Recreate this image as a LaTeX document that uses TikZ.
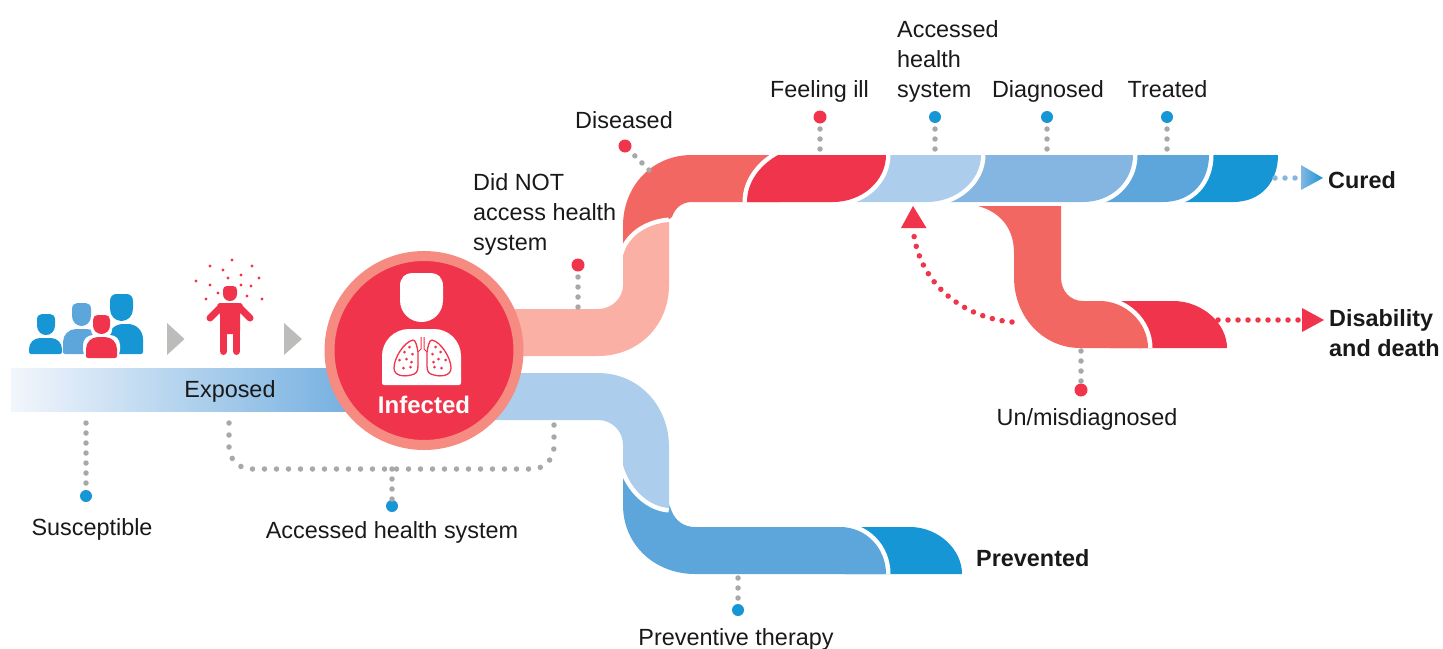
\documentclass[tikz,border=0pt]{standalone}
\usepackage{fontspec}
\setmainfont{Liberation Sans}
\usetikzlibrary{positioning}
\definecolor{cdark}{HTML}{1696D4}
\definecolor{cmid}{HTML}{5CA6DC}
\definecolor{csoft}{HTML}{85B6E2}
\definecolor{cpale}{HTML}{ACCDEB}
\definecolor{cend}{HTML}{72AEDF}
\definecolor{cstart}{HTML}{F2F6FC}
\definecolor{cred}{HTML}{F0344B}
\definecolor{csalmon}{HTML}{F36763}
\definecolor{cpink}{HTML}{FAB0A5}
\definecolor{cring}{HTML}{F68B81}
\definecolor{cdots}{HTML}{A8A8A8}
\definecolor{cgrey}{HTML}{BCBDBB}
\tikzset{
	label/.style={font=\fontsize{23.4}{30}\selectfont,text=black!90,inner sep=0pt,align=left,anchor=base},
	strong/.style={label,font=\fontsize{23.4}{30}\selectfont\bfseries},
	dotline/.style={draw=cdots,line width=5.5pt,line cap=round,dash pattern=on 0pt off 10pt},
	redline/.style={draw=cred,line width=5.5pt,line cap=round,dash pattern=on 0pt off 10pt},
	blueline/.style={draw=csoft,line width=5.5pt,line cap=round,dash pattern=on 0pt off 10pt},
	reddot/.style={circle,fill=cred,inner sep=0pt,minimum size=13pt},
	bluedot/.style={circle,fill=cdark,inner sep=0pt,minimum size=12pt},
	gap/.style={draw=white,line width=9pt}
}
% one piece of the upper bar: colour, hidden left end, top and bottom of its rounded right end
\newcommand{\barpiece}[4]{
	\draw[gap] (#3,155) .. controls +(0,26) and +(29,0) .. (#4,202);
	\fill[#1] (#2,155) -- (#3,155) .. controls +(0,26) and +(29,0) .. (#4,202) -- (#2,202) -- cycle;
}
% head drawn in a box of 43 by 49, stretched to the given corners
\newcommand{\headicon}[5]{
	\begin{scope}[shift={(#2,#3)},xscale={(#4-#2)/43},yscale={(#5-#3)/49}]
		\fill[#1] (12,0) -- (31,0) .. controls (38,0) and (43,5) .. (43,13) -- (43,27) .. controls (43,40) and (33,49) .. (21.5,49) .. controls (10,49) and (0,40) .. (0,27) -- (0,13) .. controls (0,5) and (5,0) .. (12,0);
	\end{scope}
}
\newcommand{\bodyicon}[6]{
	\fill[#1] (#2,#5) [rounded corners=#6] -- (#2,#3) -- (#4,#3) [rounded corners=2] -- (#4,#5) -- cycle;
}
\begin{document}
\begin{tikzpicture}[x=1pt,y=-1pt]
	\useasboundingbox (0,0) rectangle (1443,648);

	% upper bar
	\barpiece{cdark}{1170}{1278}{1233}
	\barpiece{cmid}{1090}{1209}{1163}
	\barpiece{csoft}{940}{1133}{1083}
	\barpiece{cpale}{840}{981}{927}
	\draw[gap] (886,155) .. controls +(0,26) and +(29,0) .. (833,202);
	\fill[csalmon] (623,252) -- (623,226) .. controls (623,186) and (652,155) .. (692,155) -- (780,155) -- (780,202) -- (692,202) .. controls (682,202) and (675,208) .. (672,217) -- cycle;
	\draw[gap] (778,155) .. controls (760,165) and (747,182) .. (747,202);
	\fill[cred] (778,155) .. controls (760,165) and (747,182) .. (747,202) -- (833,202) .. controls +(29,0) and +(0,26) .. (886,155) -- cycle;

	% pink branch
	\draw[gap] (623,256) .. controls (627,238) and (645,224) .. (669,222);
	\fill[cpink] (470,309) -- (598,309) .. controls (612,309) and (623,298) .. (623,285) -- (623,256) .. controls (627,238) and (645,224) .. (669,222) -- (669,285) .. controls (669,326) and (638,356) .. (598,356) -- (470,356) -- cycle;

	% lower bar
	\fill[cdark] (845,527) -- (910,527) .. controls (938,527) and (962,549) .. (962,574) -- (845,574) -- cycle;
	\draw[gap] (840,527) .. controls +(26,0) and +(0,-26) .. (886,574);
	\fill[cmid] (623,470) -- (623,505) .. controls (623,545) and (655,574) .. (695,574) -- (886,574) .. controls +(0,-26) and +(26,0) .. (840,527) -- (695,527) .. controls (684,527) and (676,521) .. (672,512) -- (660,480) -- cycle;
	\draw[gap] (623,465) .. controls (630,490) and (650,507) .. (669,508);
	\fill[cpale] (470,373) -- (598,373) .. controls (638,373) and (669,405) .. (669,447) -- (669,508) .. controls (650,507) and (630,490) .. (623,465) -- (623,445) .. controls (623,431) and (612,420) .. (598,420) -- (470,420) -- cycle;

	% branch to disability
	\fill[cred] (1110,301) -- (1173,301) .. controls (1203,301) and (1227,324) .. (1227,348) -- (1110,348) -- cycle;
	\draw[gap] (1100,301) .. controls +(25,0) and +(0,-26) .. (1148,348);
	\fill[csalmon] (978,206) -- (1061,206) -- (1061,277) .. controls (1061,291) and (1070,301) .. (1083,301) -- (1100,301) .. controls (1125,301) and (1148,322) .. (1148,348) -- (1080,348) .. controls (1044,348) and (1014,318) .. (1014,277) -- (1014,253) .. controls (1014,228) and (1000,212) .. (978,206) -- cycle;

	% exposed bar and infected circle
	\shade[left color=cstart,right color=cend] (11,368) rectangle (360,411);
	\node[label] (exposed) at (230,397) {Exposed};
	\node[circle,fill=cred,draw=cring,line width=10pt,inner sep=0pt,minimum size=189pt] (infected) at (424,350.5) {};
	\headicon{white}{400}{273}{443}{322}
	\bodyicon{white}{382}{329}{461}{385}{27}
	\foreach \lungside in {1,-1} {
		\begin{scope}[shift={(422.5,0)},xscale=\lungside]
			\draw[cred,line width=1.3pt] (-9.5,340) .. controls (-18.5,342) and (-28.5,358) .. (-28.5,368) .. controls (-28.5,376) and (-18.5,377) .. (-11.5,375) .. controls (-6.5,374) and (-4.5,372) .. (-4.5,366) -- (-4.5,352) .. controls (-5.5,347) and (-6.5,340) .. (-9.5,340);
			\draw[cred,line width=1pt] (-1.5,337) -- (-1.5,349) -- (-4.5,352);
			\foreach \px/\py in {-13/347,-18/352,-10/354,-16/359,-23/360,-11/362,-19/368,-12/367}
				\fill[cred] (\px,\py) circle (1.5pt);
		\end{scope}
	}
	\node[strong,text=white,font=\fontsize{24}{30}\selectfont\bfseries] (infectedlabel) at (424,413) {Infected};

	% people
	\headicon{cdark}{37}{314}{55}{335}
	\bodyicon{cdark}{29}{338}{62}{354}{11}
	\headicon{cmid}{72}{303}{91}{326}
	\bodyicon{cmid}{63}{329}{100}{354}{13}
	\headicon{cdark}{110}{294}{133}{321}
	\bodyicon{cdark}{108}{324}{143}{354}{15}
	\fill[white,rounded corners=10] (83,360) rectangle (120,335);
	\fill[white,rounded corners=7] (91,313) rectangle (112,337);
	\headicon{cred}{93}{315}{110}{334}
	\bodyicon{cred}{86}{337}{117}{358}{12}
	\fill[cgrey] (167,323) -- (184.5,339) -- (167,355) -- cycle;
	\fill[cgrey] (284,323) -- (302,339) -- (284,355) -- cycle;

	% exposed person
	\headicon{cred}{223}{286}{237}{301}
	\fill[cred,rounded corners=4] (216,303) -- (244,303) -- (240,312) -- (240,334) -- (220,334) -- (220,312) -- cycle;
	\draw[cred,line width=7pt,line cap=round] (221,307) -- (210,318);
	\draw[cred,line width=7pt,line cap=round] (239,307) -- (250,318);
	\draw[cred,line width=7pt,line cap=round] (223.5,330) -- (223.5,351.5);
	\draw[cred,line width=7pt,line cap=round] (236.5,330) -- (236.5,351.5);
	\foreach \px/\py in {232/260,210/266,252/266,223/270,241/275,228/278,259/278,196/281,210/285,241/285,251/286,218/293,247/296,206/299,262/299}
		\fill[cred] (\px,\py) circle (1.6pt);

	% dots with their labels
	\node[bluedot] (dsusceptible) at (86,496) {};
	\coordinate (tsusceptible) at (86,423);
	\draw[dotline] (tsusceptible) -- (dsusceptible);
	\node[label] (susceptible) at (92,535) {Susceptible};

	\node[bluedot] (dhealth) at (392,506) {};
	\coordinate (healthleft) at (229,423);
	\coordinate (healthmid) at (392,469);
	\coordinate (healthright) at (554,425);
	\draw[dotline,dash pattern=on 0pt off 12pt,rounded corners=22pt] (healthleft) |- (healthmid) -| (healthright);
	\draw[dotline] (healthmid) -- (dhealth);
	\node[label] (health) at (392,538) {Accessed health system};

	\node[bluedot] (dpreventive) at (738,610) {};
	\coordinate (tpreventive) at (738,578);
	\draw[dotline] (tpreventive) -- (dpreventive);
	\node[label] (preventive) at (736,645) {Preventive therapy};

	\node[reddot] (dnoaccess) at (578,265) {};
	\coordinate (tnoaccess) at (578,307);
	\draw[dotline] (tnoaccess) -- (dnoaccess);
	\node[label,anchor=west] (noaccess) at (473,214) {Did NOT\\access health\\system};

	\node[reddot] (ddiseased) at (625,146) {};
	\coordinate (tdiseased) at (649,170);
	\draw[dotline] (tdiseased) -- (ddiseased);
	\node[label] (diseased) at (624,128) {Diseased};

	\node[reddot] (dfeeling) at (820,117) {};
	\coordinate (tfeeling) at (820,149);
	\draw[dotline] (tfeeling) -- (dfeeling);
	\node[label] (feeling) at (819.5,97) {Feeling ill};

	\node[bluedot] (daccess) at (935,117) {};
	\coordinate (taccess) at (935,149);
	\draw[dotline] (taccess) -- (daccess);
	\node[label,anchor=west] (access) at (897,61) {Accessed\\health\\system};

	\node[bluedot] (ddiagnosed) at (1047,117) {};
	\coordinate (tdiagnosed) at (1047,149);
	\draw[dotline] (tdiagnosed) -- (ddiagnosed);
	\node[label] (diagnosed) at (1048,97) {Diagnosed};

	\node[bluedot] (dtreated) at (1167,117) {};
	\coordinate (ttreated) at (1167,149);
	\draw[dotline] (ttreated) -- (dtreated);
	\node[label] (treated) at (1167.5,97) {Treated};

	\node[reddot] (dmis) at (1081,390) {};
	\coordinate (tmis) at (1081,351);
	\draw[dotline] (tmis) -- (dmis);
	\node[label] (mis) at (1087,425) {Un/misdiagnosed};

	% outcomes
	\coordinate (tcured) at (1275,178);
	\coordinate (acured) at (1301,178);
	\draw[blueline] (tcured) -- (acured);
	\shade[left color=csoft,right color=cdark] (1301,165) -- (1323,178) -- (1301,190) -- cycle;
	\node[strong,anchor=base west] (cured) at (1328,188) {Cured};

	\coordinate (tdeath) at (1218,320);
	\coordinate (adeath) at (1300,320);
	\draw[redline] (tdeath) -- (adeath);
	\fill[cred] (1302,308) -- (1324,320) -- (1302,332) -- cycle;
	\node[strong,anchor=west] (death) at (1329,333) {Disability\\and death};

	\node[strong,anchor=base west] (prevented) at (976,566) {Prevented};

	\coordinate (treturn) at (1012,322);
	\coordinate (areturn) at (913,228);
	\draw[redline] (treturn) .. controls (965,318) and (918,285) .. (areturn);
	\fill[cred] (913,206) -- (926.5,228) -- (901,228) -- cycle;
\end{tikzpicture}
\end{document}
